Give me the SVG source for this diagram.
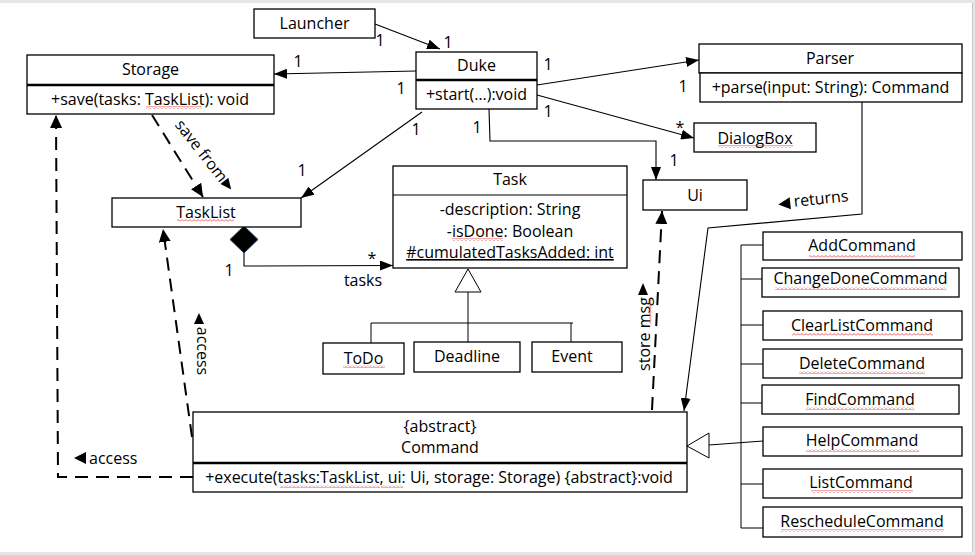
<svg xmlns="http://www.w3.org/2000/svg" width="975" height="555" viewBox="0 0 975 555">
  <style>
    .box { fill: #fff; stroke: #000; stroke-width: 1.3; }
    .sep { stroke: #000; stroke-width: 2.6; }
    .thin { stroke: #000; stroke-width: 1; fill: none; }
    .ln { stroke: #000; stroke-width: 1.1; fill: none; }
    .dash { stroke: #000; stroke-width: 2; fill: none; stroke-dasharray: 13 8; }
    text { font-family: "Open Sans", "Noto Sans", "Liberation Sans", sans-serif; font-size: 16px; fill: #000; }
    .c { text-anchor: middle; }
    .sq { fill: url(#squig); }
  </style>
  <defs>
    <marker id="arr" markerWidth="13" markerHeight="10" refX="13" refY="5" orient="auto" markerUnits="userSpaceOnUse">
      <path d="M0,0 L13,5 L0,10 z" fill="#000"/>
    </marker>
    <marker id="arrD" markerWidth="13" markerHeight="12" refX="13" refY="6" orient="auto" markerUnits="userSpaceOnUse">
      <path d="M0,0 L13,6 L0,12 z" fill="#000"/>
    </marker>
    <pattern id="squig" width="4" height="3" patternUnits="userSpaceOnUse">
      <path d="M0,2.5 L2,0.5 L4,2.5" fill="none" stroke="#e03030" stroke-width="0.8"/>
    </pattern>
  </defs>

  <!-- page frame -->
  <rect x="0" y="0" width="975" height="555" fill="#e6e6e6"/>
  <rect x="0" y="3" width="972" height="549" fill="#fff"/>
  <line x1="972.5" y1="3" x2="972.5" y2="552" stroke="#c8c8c8" stroke-width="1"/>

  <!-- connectors -->
  <g id="connectors">
    <!-- Launcher -> Duke -->
    <line class="ln" x1="375" y1="24" x2="440" y2="49" marker-end="url(#arr)"/>
    <text class="c" x="380" y="46">1</text>
    <text class="c" x="448" y="48">1</text>
    <!-- Duke -> Storage -->
    <line class="ln" x1="416" y1="71" x2="274" y2="74" marker-end="url(#arr)"/>
    <text class="c" x="298" y="67">1</text>
    <text class="c" x="401" y="94">1</text>
    <!-- Duke -> TaskList -->
    <line class="ln" x1="422" y1="112" x2="301" y2="198" marker-end="url(#arr)"/>
    <text class="c" x="416" y="135">1</text>
    <text class="c" x="302" y="176">1</text>
    <!-- Duke -> Ui -->
    <polyline class="ln" points="489,109 490,141 656,141 656,180" marker-end="url(#arr)"/>
    <text class="c" x="477" y="133">1</text>
    <text class="c" x="674" y="166">1</text>
    <!-- Duke -> Parser -->
    <line class="ln" x1="537" y1="85" x2="699" y2="60" marker-end="url(#arr)"/>
    <text class="c" x="548" y="70">1</text>
    <text class="c" x="683" y="92">1</text>
    <!-- Duke -> DialogBox -->
    <line class="ln" x1="537" y1="95" x2="694" y2="138" marker-end="url(#arr)"/>
    <text class="c" x="680" y="133">*</text>
    <text class="c" x="548" y="117">1</text>

    <!-- Storage saves from TaskList -->
    <line class="dash" x1="152" y1="115" x2="203" y2="197" marker-end="url(#arrD)"/>
    <g transform="translate(201,151) rotate(52)">
      <text class="c" x="0" y="5">save from</text>
      <path d="M38,-5 L49,0 L38,5 z" fill="#000"/>
    </g>

    <!-- TaskList composition of Task -->
    <path d="M244,226 L258,239.5 L244,253 L230,239.5 z" fill="#000" stroke="#1f3864" stroke-width="1"/>
    <polyline class="ln" points="244,253 244,266 393,265.5" marker-end="url(#arr)"/>
    <text class="c" x="229" y="276">1</text>
    <text class="c" x="372" y="264">*</text>
    <text class="c" x="363" y="286">tasks</text>

    <!-- Task generalization -->
    <path d="M468,269 L481,292 L455,292 z" fill="#fff" stroke="#000" stroke-width="1"/>
    <line class="thin" x1="468" y1="292" x2="468" y2="342"/>
    <line class="thin" x1="371" y1="323" x2="573" y2="323"/>
    <line class="thin" x1="371" y1="323" x2="371" y2="343"/>
    <line class="thin" x1="571" y1="323" x2="571" y2="342"/>

    <!-- Command accesses TaskList -->
    <line class="dash" x1="192" y1="437" x2="163" y2="229" marker-end="url(#arrD)"/>
    <g transform="translate(202,351) rotate(90)">
      <path d="M-27,-2 L-38,3 L-27,8 z" fill="#000"/>
      <text class="c" x="0" y="5">access</text>
    </g>

    <!-- Command accesses Storage -->
    <polyline class="dash" points="193,477 58,477 56,115" marker-end="url(#arrD)"/>
    <path d="M86,452 L74,458 L86,464 z" fill="#000"/>
    <text x="89" y="464">access</text>

    <!-- Command stores message in Ui -->
    <line class="dash" x1="652" y1="410" x2="662" y2="211" marker-end="url(#arrD)"/>
    <g transform="translate(645,334) rotate(-90)">
      <text class="c" x="0" y="5">store msg</text>
      <path d="M39,-7 L51,-2 L39,3 z" fill="#000"/>
    </g>

    <!-- Parser returns Command -->
    <polyline class="ln" points="862,102 862,214 708,228 684,411" marker-end="url(#arr)"/>
    <g transform="translate(821,199) rotate(-6)">
      <path d="M-31,-5 L-43,1 L-31,7 z" fill="#000"/>
      <text class="c" x="0" y="5">returns</text>
    </g>

    <!-- Command subclasses -->
    <line class="thin" x1="741" y1="245" x2="741" y2="528"/>
    <line class="thin" x1="741" y1="245" x2="763" y2="245"/>
    <line class="thin" x1="741" y1="279" x2="762" y2="279"/>
    <line class="thin" x1="741" y1="325" x2="763" y2="325"/>
    <line class="thin" x1="741" y1="364" x2="763" y2="364"/>
    <line class="thin" x1="741" y1="403" x2="762" y2="403"/>
    <line class="thin" x1="741" y1="484" x2="763" y2="484"/>
    <line class="thin" x1="741" y1="528" x2="763" y2="528"/>
    <line class="thin" x1="709" y1="445" x2="763" y2="441"/>
    <path d="M687,446 L709,433 L709,458 z" fill="#fff" stroke="#000" stroke-width="1"/>
  </g>

  <!-- nodes -->
  <g id="launcher">
    <rect class="box" x="254" y="9" width="121" height="29"/>
    <text class="c" x="314.5" y="29">Launcher</text>
  </g>

  <g id="storage">
    <rect class="box" x="27" y="55" width="247" height="59"/>
    <line class="sep" x1="27" y1="85" x2="274" y2="85"/>
    <text class="c" x="150.5" y="75">Storage</text>
    <text class="c" x="150" y="105">+save(tasks: TaskList): void</text>
    <rect class="sq" x="146" y="106" width="56" height="3"/>
  </g>

  <g id="duke">
    <rect class="box" x="416" y="52" width="121" height="57"/>
    <line class="sep" x1="416" y1="80" x2="537" y2="80"/>
    <text class="c" x="476.5" y="71">Duke</text>
    <text class="c" x="476.5" y="100">+start(…):void</text>
  </g>

  <g id="parser">
    <rect class="box" x="699" y="44" width="263" height="29"/>
    <rect class="box" x="700" y="73" width="262" height="29"/>
    <text class="c" x="830" y="64">Parser</text>
    <text class="c" x="830.5" y="93">+parse(input: String): Command</text>
  </g>

  <g id="dialogbox">
    <rect class="box" x="694" y="123" width="122" height="29"/>
    <text class="c" x="755" y="144">DialogBox</text>
    <rect class="sq" x="718" y="145" width="75" height="3"/>
  </g>

  <g id="ui">
    <rect class="box" x="643" y="180" width="104" height="30"/>
    <text class="c" x="695" y="201">Ui</text>
  </g>

  <g id="tasklist">
    <rect class="box" x="112" y="198" width="189" height="29"/>
    <text class="c" x="206" y="218">TaskList</text>
    <rect class="sq" x="177" y="219" width="57" height="3"/>
  </g>

  <g id="task">
    <rect class="box" x="393" y="166" width="234" height="102"/>
    <line class="thin" x1="393" y1="195" x2="627" y2="195"/>
    <text class="c" x="510" y="185">Task</text>
    <text class="c" x="510" y="215">-description: String</text>
    <text class="c" x="510" y="237">-isDone: Boolean</text>
    <rect class="sq" x="452" y="238" width="51" height="3"/>
    <text class="c" x="510" y="258" text-decoration="underline">#cumulatedTasksAdded: int</text>
  </g>

  <g id="todo">
    <rect class="box" x="323" y="343" width="81" height="31"/>
    <text class="c" x="363.5" y="364">ToDo</text>
    <rect class="sq" x="343" y="365" width="42" height="3"/>
  </g>

  <g id="deadline">
    <rect class="box" x="414" y="342" width="106" height="30"/>
    <text class="c" x="467" y="362">Deadline</text>
  </g>

  <g id="event">
    <rect class="box" x="532" y="342" width="90" height="30"/>
    <text class="c" x="572" y="362">Event</text>
  </g>

  <g id="command">
    <rect class="box" x="193" y="412" width="494" height="80"/>
    <line class="sep" x1="193" y1="463" x2="687" y2="463"/>
    <text class="c" x="440" y="432">{abstract}</text>
    <text class="c" x="440" y="453">Command</text>
    <text class="c" x="439" y="483">+execute(tasks:TaskList, ui: Ui, storage: Storage) {abstract}:void</text>
    <rect class="sq" x="280" y="485" width="100" height="3"/>
    <rect class="sq" x="381" y="485" width="22" height="3"/>
  </g>

  <g id="addcommand">
    <rect class="box" x="763" y="232" width="199" height="28"/>
    <text class="c" x="862" y="251">AddCommand</text>
    <rect class="sq" x="809" y="255" width="106" height="3"/>
  </g>
  <g id="changedonecommand">
    <rect class="box" x="762" y="268" width="197" height="29"/>
    <text class="c" x="860.5" y="284">ChangeDoneCommand</text>
    <rect class="sq" x="775" y="287" width="171" height="3"/>
  </g>
  <g id="clearlistcommand">
    <rect class="box" x="763" y="311" width="199" height="29"/>
    <text class="c" x="862" y="331">ClearListCommand</text>
    <rect class="sq" x="792" y="333" width="141" height="3"/>
  </g>
  <g id="deletecommand">
    <rect class="box" x="763" y="349" width="199" height="29"/>
    <text class="c" x="862" y="369">DeleteCommand</text>
    <rect class="sq" x="799" y="371" width="126" height="3"/>
  </g>
  <g id="findcommand">
    <rect class="box" x="762" y="385" width="197" height="29"/>
    <text class="c" x="860" y="405">FindCommand</text>
    <rect class="sq" x="806" y="407" width="108" height="3"/>
  </g>
  <g id="helpcommand">
    <rect class="box" x="763" y="427" width="199" height="29"/>
    <text class="c" x="862" y="446">HelpCommand</text>
    <rect class="sq" x="806" y="449" width="113" height="3"/>
  </g>
  <g id="listcommand">
    <rect class="box" x="763" y="469" width="199" height="29"/>
    <text class="c" x="861" y="488">ListCommand</text>
    <rect class="sq" x="811" y="490" width="102" height="3"/>
  </g>
  <g id="reschedulecommand">
    <rect class="box" x="763" y="507" width="199" height="30"/>
    <text class="c" x="862" y="527">RescheduleCommand</text>
    <rect class="sq" x="781" y="529" width="163" height="3"/>
  </g>

  <!-- spelling mark under "msg" -->
  <g transform="translate(649,324) rotate(-90)">
    <rect class="sq" x="0" y="0" width="26" height="3"/>
  </g>
</svg>
